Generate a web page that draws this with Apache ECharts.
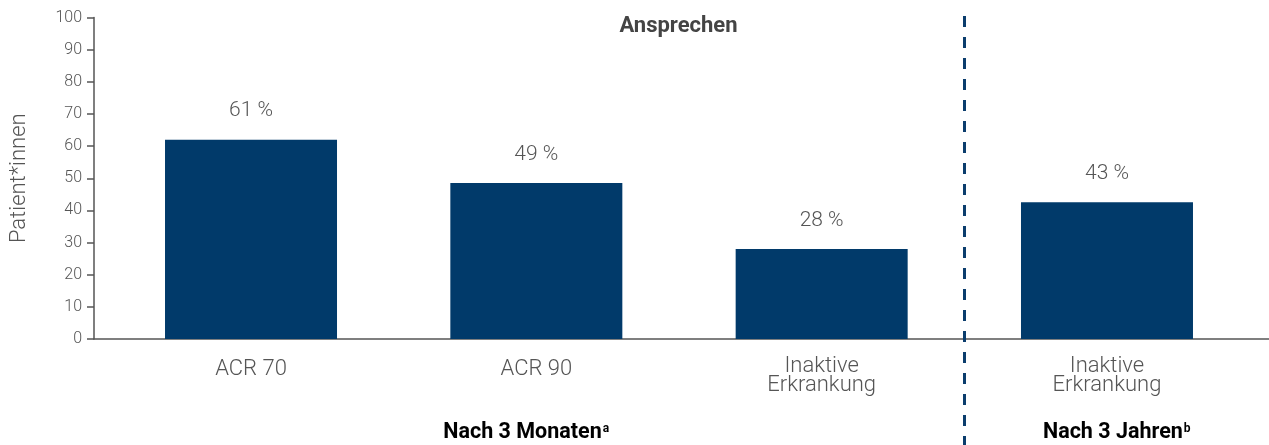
<!DOCTYPE html>
<html>
<head>
<meta charset="utf-8">
<script src="https://cdn.jsdelivr.net/npm/echarts@6/dist/echarts.min.js"></script>
<style>
html,body{margin:0;padding:0;background:#fff;}
#c{width:1269px;height:445px;}
</style>
</head>
<body>
<div id="c"></div>
<script>
var categories = ['ACR 70', 'ACR 90', 'Inaktive\nErkrankung', 'Inaktive\nErkrankung'];
var values = [62, 48.5, 28, 42.5];
var valueLabels = ['61 %', '49 %', '28 %', '43 %'];
var yTicks = { min: 0, max: 100, interval: 10 };
var yAxisName = 'Patient*innen';
var topTitle = 'Ansprechen';
var groupLabels = [
  { text: 'Nach 3 Monaten', sup: 'a' },
  { text: 'Nach 3 Jahren', sup: 'b' }
];

var FONT = 'Roboto, "Noto Sans", sans-serif';
var BAR = '#013a6a';
var TXT = '#555555';
var DARK = '#444444';

var chart = echarts.init(document.getElementById('c'), null, { renderer: 'canvas' });

var gridTop = 17.5, gridBottom = 106;

var categoryItems = categories.map(function (c) {
  var single = c.indexOf('\n') < 0;
  return single ? { value: c, textStyle: { padding: [3, 0, 0, 0] } } : c;
});

var option = {
  animation: false,
  backgroundColor: '#ffffff',
  grid: [
    { left: 88, right: 0, top: gridTop, bottom: gridBottom, containLabel: false },
    { left: 108.35, right: 19.35, top: gridTop, bottom: gridBottom, containLabel: false }
  ],
  xAxis: [
    {
      gridIndex: 0, type: 'category', data: [''],
      axisLine: { show: true, lineStyle: { color: '#555', width: 1.5 } },
      axisTick: { show: false }, axisLabel: { show: false }, splitLine: { show: false }
    },
    {
      gridIndex: 1, type: 'category', data: categoryItems,
      axisLine: { show: false }, axisTick: { show: false }, splitLine: { show: false },
      axisLabel: {
        show: true, interval: 0, margin: 18,
        color: TXT, fontFamily: FONT, fontWeight: 300, fontSize: 22, lineHeight: 19
      }
    }
  ],
  yAxis: [
    {
      gridIndex: 0, type: 'value', min: yTicks.min, max: yTicks.max, interval: yTicks.interval,
      name: yAxisName, nameLocation: 'middle', nameGap: 64, nameRotate: 90,
      nameTextStyle: { color: TXT, fontFamily: FONT, fontWeight: 300, fontSize: 22 },
      axisLine: { show: true, lineStyle: { color: '#555', width: 1.5 } },
      axisTick: { show: true, length: 7, lineStyle: { color: '#555', width: 1.5 } },
      axisLabel: { color: TXT, fontFamily: FONT, fontWeight: 300, fontSize: 16, margin: 12 },
      splitLine: { show: false }
    },
    {
      gridIndex: 1, type: 'value', min: yTicks.min, max: yTicks.max, interval: yTicks.interval,
      show: false, splitLine: { show: false }
    }
  ],
  series: [
    {
      type: 'bar', xAxisIndex: 1, yAxisIndex: 1,
      data: values, barWidth: 172,
      itemStyle: { color: BAR },
      label: {
        show: true, position: 'top', distance: 18,
        color: TXT, fontFamily: FONT, fontWeight: 300, fontSize: 21,
        formatter: function (p) { return valueLabels[p.dataIndex]; }
      }
    }
  ]
};
chart.setOption(option);

// Derived positions from the library's scales
var x2 = chart.convertToPixel({ xAxisIndex: 1 }, 2);
var x3 = chart.convertToPixel({ xAxisIndex: 1 }, 3);
var divX = Math.round((x2 + x3) / 2) + 0.5;
var left0 = 88;
var right0 = 1269;

function groupText(g, cx) {
  return {
    type: 'text',
    x: cx, y: 432.5,
    style: {
      text: '{m|' + g.text + '}{s|' + g.sup + '}',
      align: 'center', verticalAlign: 'middle',
      rich: {
        m: { fontFamily: FONT, fontWeight: 'bold', fontSize: 21.5, color: DARK },
        s: { fontFamily: FONT, fontWeight: 'bold', fontSize: 12, color: DARK, padding: [0, 0, 8, 1] }
      }
    }
  };
}

chart.setOption({
  graphic: [
    {
      type: 'line', z: 10,
      shape: { x1: divX, y1: 16, x2: divX, y2: 445 },
      style: { stroke: '#0b3d6d', lineWidth: 3, lineDash: [11, 10] }
    },
    {
      type: 'text',
      x: (left0 + right0) / 2, y: 26,
      style: {
        text: topTitle, align: 'center', verticalAlign: 'middle',
        fontFamily: FONT, fontWeight: 'bold', fontSize: 22, fill: DARK
      }
    },
    groupText(groupLabels[0], (left0 + divX) / 2),
    groupText(groupLabels[1], (divX + right0) / 2)
  ]
});
</script>
</body>
</html>
